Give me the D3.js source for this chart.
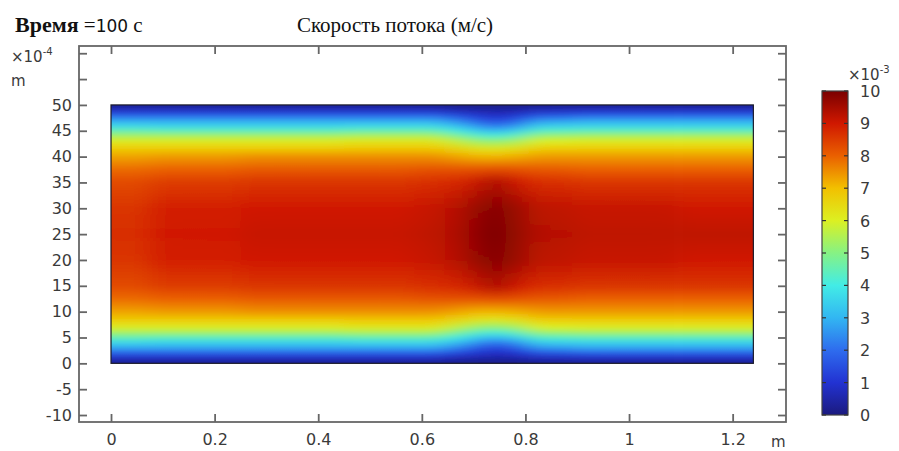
<!DOCTYPE html>
<html>
<head>
<meta charset="utf-8">
<script src="https://cdn.jsdelivr.net/npm/d3@7"></script>
<style>
  body { margin: 0; background: #fff; }
  svg { display: block; }
</style>
</head>
<body>
<div id="chart"></div>
<script>
// stations along the channel, m
var stations = [0, 0.15, 0.35, 0.55, 0.62, 0.67, 0.71, 0.745, 0.78, 0.83, 0.95, 1.24];
// distance from the wall, x1e-4 m (profile is mirrored about the centre line, 25)
var wallDist = [0, 1, 2, 3, 4, 5, 6, 7, 8.5, 10, 12.5, 15, 20, 25];

// flow speed, x1e-3 m/s, one profile per station
var speedAt0000 = [0.2, 0.8, 1.8, 2.8, 3.6, 4.5, 5.4, 6.1, 6.8, 7.3, 7.9, 8.3, 8.6, 8.7];
var speedAt0150 = [0.2, 0.8, 1.8, 2.8, 3.5, 4.4, 5.4, 6.1, 6.8, 7.4, 8.0, 8.5, 8.9, 9.0];
var speedAt0350 = [0.2, 0.8, 1.8, 2.8, 3.5, 4.4, 5.4, 6.1, 6.8, 7.5, 8.1, 8.6, 9.0, 9.1];
var speedAt0550 = [0.2, 0.8, 1.8, 2.8, 3.6, 4.5, 5.5, 6.2, 6.9, 7.5, 8.1, 8.6, 9.0, 9.1];
var speedAt0620 = [0.2, 0.8, 1.8, 2.8, 3.6, 4.5, 5.5, 6.2, 6.9, 7.5, 8.2, 8.7, 9.1, 9.2];
var speedAt0670 = [0.1, 0.6, 1.4, 2.3, 3.1, 4.0, 4.9, 5.7, 6.6, 7.3, 8.2, 8.8, 9.3, 9.4];
var speedAt0710 = [0.1, 0.5, 1.0, 1.6, 2.4, 3.3, 4.3, 5.2, 6.3, 7.1, 8.2, 9.1, 9.7, 9.8];
var speedAt0745 = [0.1, 0.4, 0.8, 1.3, 2.0, 3.0, 4.1, 5.1, 6.2, 7.1, 8.3, 9.5, 9.9, 10.0];
var speedAt0780 = [0.1, 0.5, 1.0, 1.7, 2.5, 3.5, 4.5, 5.4, 6.4, 7.2, 8.2, 9.0, 9.6, 9.7];
var speedAt0830 = [0.2, 0.7, 1.6, 2.6, 3.4, 4.3, 5.3, 6.0, 6.8, 7.4, 8.1, 8.7, 9.2, 9.3];
var speedAt0950 = [0.2, 0.8, 1.8, 2.8, 3.5, 4.4, 5.4, 6.1, 6.8, 7.4, 8.0, 8.6, 9.1, 9.2];
var speedAt1240 = [0.2, 0.8, 1.8, 2.8, 3.5, 4.4, 5.4, 6.1, 6.8, 7.4, 8.0, 8.6, 9.0, 9.2];
var profiles = [speedAt0000, speedAt0150, speedAt0350, speedAt0550, speedAt0620, speedAt0670,
                speedAt0710, speedAt0745, speedAt0780, speedAt0830, speedAt0950, speedAt1240];

// colour table of the legend
var colorValues = [0, 1, 2, 3, 4, 5, 6, 7, 8, 9, 10];
var colorHex = ["#1b1a7e", "#2232d2", "#2e6cee", "#32b6f2", "#42ece6", "#86f284",
                "#dcf022", "#f2c000", "#ea6000", "#d01800", "#7a0000"];

// ticks
var xTicks = [0, 0.2, 0.4, 0.6, 0.8, 1, 1.2];
var xLabels = ["0", "0.2", "0.4", "0.6", "0.8", "1", "1.2"];
var yTicks = [-10, -5, 0, 5, 10, 15, 20, 25, 30, 35, 40, 45, 50, 55, 60];
var yLabels = [-10, -5, 0, 5, 10, 15, 20, 25, 30, 35, 40, 45, 50];
var barTicks = [0, 1, 2, 3, 4, 5, 6, 7, 8, 9, 10];

var channel = {x0: 0, x1: 1.24, y0: 0, y1: 50};

var W = 899, H = 451;
var frame = {left: 79, right: 786, top: 46, bottom: 422};
var labelFont = "'DejaVu Sans', Verdana, sans-serif";
var serif = "'Liberation Serif', 'Times New Roman', serif";

var svg = d3.select("#chart").append("svg")
    .attr("width", W)
    .attr("height", H);

var x = d3.scaleLinear().domain([-0.0618, 1.303]).range([frame.left, frame.right]);
var y = d3.scaleLinear().domain([-11.35, 61.4]).range([frame.bottom, frame.top]);
var color = d3.scaleLinear().domain(colorValues).range(colorHex).interpolate(d3.interpolateRgb);

var defs = svg.append("defs");

// one vertical gradient per station (end colours padded past the walls)
profiles.forEach(function(p, i) {
  var g = defs.append("linearGradient")
      .attr("id", "prof" + i)
      .attr("gradientUnits", "userSpaceOnUse")
      .attr("x1", 0).attr("x2", 0)
      .attr("y1", y(channel.y0)).attr("y2", y(channel.y1));
  var stops = [];
  wallDist.forEach(function(d, k) { stops.push({o: d / 50, v: p[k]}); });
  for (var k = wallDist.length - 2; k >= 0; k--) {
    stops.push({o: (50 - wallDist[k]) / 50, v: p[k]});
  }
  g.selectAll("stop").data(stops).enter().append("stop")
      .attr("offset", function(s) { return s.o; })
      .attr("stop-color", function(s) { return color(s.v); });
});

defs.append("clipPath").attr("id", "chan")
  .append("rect")
    .attr("x", x(channel.x0)).attr("y", y(channel.y1))
    .attr("width", x(channel.x1) - x(channel.x0))
    .attr("height", y(channel.y0) - y(channel.y1));

var blur = defs.append("filter").attr("id", "smooth")
    .attr("filterUnits", "userSpaceOnUse")
    .attr("x", 0).attr("y", 0).attr("width", W).attr("height", H);
blur.append("feGaussianBlur").attr("stdDeviation", "12 2.5");

// field
var strips = stations.map(function(s, i) {
  var a = i === 0 ? channel.x0 - 0.12 : (stations[i - 1] + s) / 2;
  var b = i === stations.length - 1 ? channel.x1 + 0.12 : (stations[i + 1] + s) / 2;
  return {i: i, a: a, b: b};
});

svg.append("g").attr("clip-path", "url(#chan)")
  .append("g").attr("filter", "url(#smooth)")
  .selectAll("rect").data(strips).enter().append("rect")
    .attr("x", function(d) { return x(d.a); })
    .attr("width", function(d) { return x(d.b) - x(d.a) + 0.5; })
    .attr("y", y(channel.y1) - 12)
    .attr("height", y(channel.y0) - y(channel.y1) + 24)
    .attr("fill", function(d) { return "url(#prof" + d.i + ")"; });

svg.append("rect")
    .attr("x", x(channel.x0)).attr("y", y(channel.y1))
    .attr("width", x(channel.x1) - x(channel.x0))
    .attr("height", y(channel.y0) - y(channel.y1))
    .attr("fill", "none")
    .attr("stroke", "#1a1a2a")
    .attr("stroke-width", 1.2);

// axes, ticks pointing inwards on all four sides
function styleAxis(g) {
  g.select(".domain").remove();
  g.selectAll(".tick line").attr("stroke", "#666").attr("stroke-width", 1.8);
  g.selectAll(".tick text").attr("fill", "#3a3a3a")
      .style("font-family", labelFont).style("font-size", "16px");
}

svg.append("g")
    .attr("transform", "translate(0," + frame.bottom + ")")
    .call(d3.axisBottom(x).tickValues(xTicks).tickSizeInner(-8).tickSizeOuter(0).tickPadding(12)
      .tickFormat(function(d, i) { return xLabels[i]; }))
    .call(styleAxis);

svg.append("g")
    .attr("transform", "translate(0," + frame.top + ")")
    .call(d3.axisTop(x).tickValues(xTicks).tickSizeInner(-8).tickSizeOuter(0).tickFormat(""))
    .call(styleAxis);

svg.append("g")
    .attr("transform", "translate(" + frame.left + ",0)")
    .call(d3.axisLeft(y).tickValues(yTicks).tickSizeInner(-8).tickSizeOuter(0).tickPadding(7)
      .tickFormat(function(d) { return yLabels.indexOf(d) >= 0 ? d : ""; }))
    .call(styleAxis);

svg.append("g")
    .attr("transform", "translate(" + frame.right + ",0)")
    .call(d3.axisRight(y).tickValues(yTicks).tickSizeInner(-8).tickSizeOuter(0).tickFormat(""))
    .call(styleAxis);

svg.append("rect")
    .attr("x", frame.left).attr("y", frame.top)
    .attr("width", frame.right - frame.left)
    .attr("height", frame.bottom - frame.top)
    .attr("fill", "none")
    .attr("stroke", "#666")
    .attr("stroke-width", 1.8);

// axis units
var unitY = svg.append("text")
    .attr("x", 11).attr("y", 62)
    .attr("fill", "#3a3a3a")
    .style("font-family", labelFont).style("font-size", "15px");
unitY.append("tspan").text("×10");
unitY.append("tspan").attr("dy", -7).style("font-size", "10px").text("-4");

svg.append("text")
    .attr("x", 11).attr("y", 86)
    .attr("fill", "#3a3a3a")
    .style("font-family", labelFont).style("font-size", "15px")
    .text("m");

svg.append("text")
    .attr("x", 771).attr("y", 447)
    .attr("fill", "#3a3a3a")
    .style("font-family", labelFont).style("font-size", "15px")
    .text("m");

// colour legend
var bar = {x: 822, w: 26, top: 91, bottom: 415};
var cy = d3.scaleLinear().domain([0, 10]).range([bar.bottom, bar.top]);

var lg = defs.append("linearGradient")
    .attr("id", "legend")
    .attr("x1", 0).attr("x2", 0).attr("y1", 1).attr("y2", 0);
lg.selectAll("stop").data(colorValues).enter().append("stop")
    .attr("offset", function(d) { return d / 10; })
    .attr("stop-color", function(d, i) { return colorHex[i]; });

svg.append("rect")
    .attr("x", bar.x).attr("y", bar.top)
    .attr("width", bar.w).attr("height", bar.bottom - bar.top)
    .attr("fill", "url(#legend)")
    .attr("stroke", "#444")
    .attr("stroke-width", 1.2);

var bt = svg.append("g").selectAll("g").data(barTicks).enter().append("g");
bt.append("line")
    .attr("x1", bar.x).attr("x2", bar.x + 4)
    .attr("y1", function(d) { return cy(d); }).attr("y2", function(d) { return cy(d); })
    .attr("stroke", "#333").attr("stroke-width", 1.2);
bt.append("line")
    .attr("x1", bar.x + bar.w - 4).attr("x2", bar.x + bar.w)
    .attr("y1", function(d) { return cy(d); }).attr("y2", function(d) { return cy(d); })
    .attr("stroke", "#333").attr("stroke-width", 1.2);
bt.append("text")
    .attr("x", 860)
    .attr("y", function(d) { return cy(d); })
    .attr("dy", "0.38em")
    .attr("fill", "#3a3a3a")
    .style("font-family", labelFont).style("font-size", "16px")
    .text(function(d) { return d; });

var unitC = svg.append("text")
    .attr("x", 848).attr("y", 80)
    .attr("fill", "#3a3a3a")
    .style("font-family", labelFont).style("font-size", "15px");
unitC.append("tspan").text("×10");
unitC.append("tspan").attr("dy", -7).style("font-size", "10px").text("-3");

// titles
var t1 = svg.append("text")
    .attr("x", 15).attr("y", 32)
    .attr("fill", "#111")
    .style("font-family", serif).style("font-size", "21px");
t1.append("tspan").style("font-weight", "bold").style("font-size", "22px").text("Время");
t1.append("tspan").text(" =");
t1.append("tspan").style("font-family", labelFont).style("font-size", "17px").text("100");
t1.append("tspan").text(" с");

svg.append("text")
    .attr("x", 395).attr("y", 32)
    .attr("text-anchor", "middle")
    .attr("fill", "#111")
    .style("font-family", serif).style("font-size", "21px")
    .text("Скорость потока (м/с)");
</script>
</body>
</html>
